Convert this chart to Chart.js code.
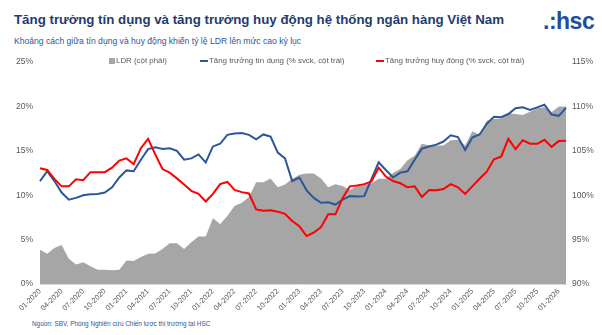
<!DOCTYPE html>
<html>
<head>
<meta charset="utf-8">
<script src="https://cdn.jsdelivr.net/npm/chart.js@4/dist/chart.umd.min.js"></script>
<style>
  body { margin: 0; background: #fff; font-family: "Liberation Sans", Arial, sans-serif; }
  #wrap { position: relative; width: 602px; height: 335px; overflow: hidden; }
  #title { position: absolute; left: 14px; top: 12px; font-size: 13.3px; font-weight: bold; color: #1F3B70; white-space: nowrap; }
  #sub { position: absolute; left: 14px; top: 36px; font-size: 8.6px; color: #2E5597; white-space: nowrap; }
  #logo { position: absolute; left: 543px; top: 8px; font-size: 23px; font-weight: bold; color: #1F4E9A; letter-spacing: -0.5px; }
  #src { position: absolute; left: 32px; top: 320px; font-size: 6.4px; color: #2E5597; white-space: nowrap; }
  .leg { position: absolute; top: 56px; font-size: 7.9px; color: #595959; white-space: nowrap; }
  .sw { display: inline-block; vertical-align: middle; margin-right: 1px; }
  #chartBox { position: absolute; left: 0; top: 50px; width: 602px; height: 265px; }
</style>
</head>
<body>
<div id="wrap">
  <div id="title">Tăng trưởng tín dụng và tăng trưởng huy động hệ thống ngân hàng Việt Nam</div>
  <div id="sub">Khoảng cách giữa tín dụng và huy động khiến tỷ lệ LDR lên mức cao kỷ lục</div>
  <div id="logo">.:hsc</div>
  <div id="chartBox"><canvas id="chart"></canvas></div>
  <div class="leg" style="left:109px"><span class="sw" style="width:6px;height:6px;background:#A6A6A6"></span>LDR (cột phải)</div>
  <div class="leg" style="left:200px"><span class="sw" style="width:8px;height:2px;background:#2B579A"></span>Tăng trưởng tín dụng (% svck, cột trái)</div>
  <div class="leg" style="left:376px"><span class="sw" style="width:8px;height:2px;background:#FF0000"></span>Tăng trưởng huy động (% svck, cột trái)</div>
  <div id="src">Nguồn: SBV, Phòng Nghiên cứu Chiến lược thị trường tại HSC</div>
</div>
<script>
// tháng 01-2020 .. 02-2026
var thang = [];
for (var y = 2020; y <= 2026; y++) {
    for (var m = 1; m <= 12; m++) {
        if (y === 2026 && m > 2) break;
        thang.push((m < 10 ? '0' + m : '' + m) + '-' + y);
    }
}

// tăng trưởng tín dụng, % svck (trục trái)
var tinDung = [
    11.6, 12.7, 11.6, 10.3, 9.5, 9.7, 10.0, 10.1, 10.15, 10.3, 10.9, 12.0,
    12.8, 12.7, 14.0, 15.2, 15.4, 15.2, 15.3, 15.0, 14.0, 14.15, 14.6, 13.7,
    15.5, 15.8, 16.8, 16.95, 17.0, 16.8, 16.3, 16.85, 16.6, 14.8, 14.15, 11.6,
    12.0, 10.55, 9.7, 9.15, 9.2, 8.95, 9.5, 9.9, 9.85, 9.9, 11.8, 13.7,
    12.85, 12.0, 12.55, 12.7, 14.0, 15.25, 15.5, 15.7, 16.05, 16.75, 16.55, 15.1,
    16.5, 16.85, 18.05, 18.85, 18.8, 19.15, 19.8, 19.9, 19.6, 19.9, 20.2, 19.1,
    18.95, 19.85
];

// tăng trưởng huy động, % svck (trục trái)
var huyDong = [
    13.05, 12.85, 11.85, 11.0, 11.0, 11.8, 11.7, 12.6, 12.6, 12.6, 13.1, 13.9,
    14.15, 13.5, 15.3, 16.35, 14.6, 12.95, 12.55, 11.9, 11.2, 10.5, 10.15, 9.3,
    10.15, 11.25, 11.5, 10.6, 10.35, 10.2, 8.4, 8.25, 8.3, 8.15, 7.9, 7.1,
    6.5, 5.4, 5.8, 6.4, 7.85, 7.85, 9.7, 11.0, 11.1, 11.25, 11.55, 13.1,
    12.1, 11.6, 11.35, 10.9, 11.0, 9.8, 10.6, 10.55, 10.7, 11.25, 10.9, 10.15,
    11.0, 11.85, 12.65, 14.05, 14.35, 16.35, 15.2, 16.2, 15.8, 15.8, 16.25, 15.45,
    16.1, 16.15
];

// LDR, % (trục phải)
var ldr = [
    93.85, 93.4, 94.05, 94.4, 92.85, 92.2, 92.45, 92.0, 91.6, 91.6, 91.55, 91.6,
    92.65, 92.6, 93.05, 93.4, 93.45, 93.95, 94.6, 94.6, 93.95, 94.7, 95.35, 95.35,
    97.4, 96.75, 97.65, 98.8, 99.15, 99.8, 101.45, 101.45, 101.9, 100.9, 101.2, 101.85,
    102.3, 102.45, 102.45, 101.9, 100.9, 101.25, 101.05, 100.6, 101.0, 101.2, 101.35, 101.85,
    101.85, 102.5, 102.95, 103.95, 104.45, 105.8, 105.6, 105.6, 105.6, 106.2, 106.25, 105.6,
    107.2, 106.8, 108.4, 108.6, 108.65, 109.25, 109.15, 109.05, 109.4, 109.8, 109.9, 109.35,
    110.0, 110.0
];

var mauChu = '#595959';
var fontTruc = { family: '"Liberation Sans", Arial, sans-serif', size: 8.5 };

var ctx = document.getElementById('chart').getContext('2d');
var chart = new Chart(ctx, {
    type: 'line',
    data: {
        labels: thang,
        datasets: [{
                label: 'Tăng trưởng huy động (% svck, cột trái)',
                data: huyDong,
                yAxisID: 'y',
                borderColor: '#FF0000',
                borderWidth: 2,
                pointRadius: 0,
                fill: false,
                order: 1
            }, {
                label: 'Tăng trưởng tín dụng (% svck, cột trái)',
                data: tinDung,
                yAxisID: 'y',
                borderColor: '#2B579A',
                borderWidth: 2,
                pointRadius: 0,
                fill: false,
                order: 2
            }, {
                label: 'LDR (cột phải)',
                data: ldr,
                yAxisID: 'y1',
                borderWidth: 0,
                borderColor: 'rgba(0,0,0,0)',
                backgroundColor: '#A6A6A6',
                pointRadius: 0,
                fill: 'start',
                order: 3
            }]
    },
    options: {
        responsive: true,
        maintainAspectRatio: false,
        animation: false,
        layout: { padding: { top: 8, left: 0, right: 0, bottom: 0 } },
        plugins: {
            legend: { display: false },
            tooltip: { enabled: false }
        },
        elements: { line: { tension: 0 } },
        scales: {
            x: {
                offset: false,
                grid: { display: false, drawTicks: false },
                border: { display: true, color: '#D9D9D9' },
                ticks: {
                    autoSkip: false,
                    maxRotation: 45,
                    minRotation: 45,
                    padding: 3,
                    color: mauChu,
                    font: { family: fontTruc.family, size: 7.5 },
                    callback: function (value, index) {
                        return index % 3 === 0 ? thang[index] : '';
                    }
                },
                afterFit: function (scale) { scale.height = 31; }
            },
            y: {
                position: 'left',
                min: 0,
                max: 25,
                grid: { display: false, drawTicks: false },
                border: { display: false },
                ticks: {
                    stepSize: 5,
                    padding: 7,
                    color: mauChu,
                    font: fontTruc,
                    callback: function (v) { return v + '%'; }
                },
                afterFit: function (scale) { scale.width = 40; }
            },
            y1: {
                position: 'right',
                min: 90,
                max: 115,
                grid: { display: false, drawTicks: false },
                border: { display: false },
                ticks: {
                    stepSize: 5,
                    padding: 6,
                    color: mauChu,
                    font: fontTruc,
                    callback: function (v) { return v + '%'; }
                },
                afterFit: function (scale) { scale.width = 36; }
            }
        }
    }
});
</script>
</body>
</html>
